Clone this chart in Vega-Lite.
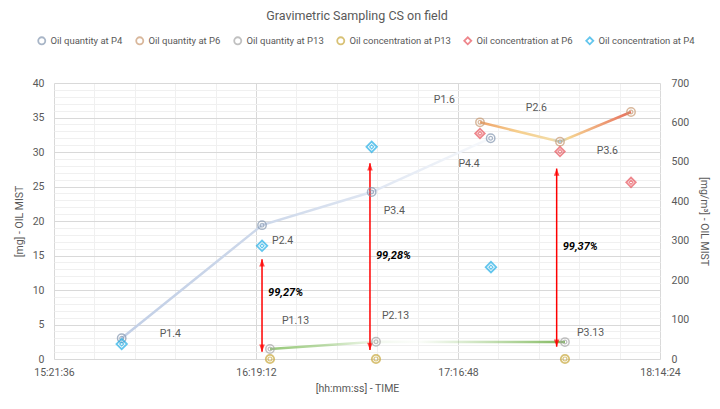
{
  "$schema": "https://vega.github.io/schema/vega-lite/v6.json",
  "autosize": {"type": "none"},
  "padding": {"left": 54, "top": 83, "right": 60, "bottom": 50},
  "width": 606,
  "height": 276,
  "title": {"text": "Gravimetric Sampling CS on field", "fontSize": 12.5, "fontWeight": "normal", "color": "#595959", "anchor": "middle", "offset": 14},
  "config": {
    "font": "Roboto",
    "view": {"stroke": null},
    "axis": {"labelColor": "#595959", "titleColor": "#595959", "titleFontWeight": "normal", "labelFontSize": 10.5, "titleFontSize": 10.5, "ticks": false, "domain": false},
    "legend": {"labelColor": "#595959", "labelFontSize": 9.5}
  },
  "datasets": {
    "qty": [
      {"series": "Oil quantity at P4", "point": "P1.4", "time": "1970-01-01T15:40:54Z", "mg": 3.0},
      {"series": "Oil quantity at P4", "point": "P2.4", "time": "1970-01-01T16:20:55Z", "mg": 19.4},
      {"series": "Oil quantity at P4", "point": "P3.4", "time": "1970-01-01T16:52:11Z", "mg": 24.2},
      {"series": "Oil quantity at P4", "point": "P4.4", "time": "1970-01-01T17:26:07Z", "mg": 32.0},
      {"series": "Oil quantity at P6", "point": "P1.6", "time": "1970-01-01T17:23:04Z", "mg": 34.3},
      {"series": "Oil quantity at P6", "point": "P2.6", "time": "1970-01-01T17:45:53Z", "mg": 31.5},
      {"series": "Oil quantity at P6", "point": "P3.6", "time": "1970-01-01T18:06:08Z", "mg": 35.8},
      {"series": "Oil quantity at P13", "point": "P1.13", "time": "1970-01-01T16:23:11Z", "mg": 1.45},
      {"series": "Oil quantity at P13", "point": "P2.13", "time": "1970-01-01T16:53:25Z", "mg": 2.5},
      {"series": "Oil quantity at P13", "point": "P3.13", "time": "1970-01-01T17:47:18Z", "mg": 2.45}
    ],
    "conc": [
      {"series": "Oil concentration at P4", "time": "1970-01-01T15:40:54Z", "conc": 38},
      {"series": "Oil concentration at P4", "time": "1970-01-01T16:20:55Z", "conc": 287},
      {"series": "Oil concentration at P4", "time": "1970-01-01T16:52:11Z", "conc": 538},
      {"series": "Oil concentration at P4", "time": "1970-01-01T17:26:12Z", "conc": 233},
      {"series": "Oil concentration at P6", "time": "1970-01-01T17:23:04Z", "conc": 572},
      {"series": "Oil concentration at P6", "time": "1970-01-01T17:45:53Z", "conc": 526},
      {"series": "Oil concentration at P6", "time": "1970-01-01T18:06:08Z", "conc": 448},
      {"series": "Oil concentration at P13", "time": "1970-01-01T16:23:11Z", "conc": 0},
      {"series": "Oil concentration at P13", "time": "1970-01-01T16:53:25Z", "conc": 0},
      {"series": "Oil concentration at P13", "time": "1970-01-01T17:47:18Z", "conc": 0}
    ],
    "arrows": [
      {"time": "1970-01-01T16:20:55Z", "mg": 14.45, "mg2": 1.06, "label": "99,27%", "labelAt": 9.6},
      {"time": "1970-01-01T16:51:42Z", "mg": 28.36, "mg2": 1.3, "label": "99,28%", "labelAt": 14.9},
      {"time": "1970-01-01T17:44:56Z", "mg": 27.6, "mg2": 1.78, "label": "99,37%", "labelAt": 16.2}
    ]
  },
  "layer": [
    {
      "encoding": {
        "x": {"field": "time", "type": "temporal", "scale": {"type": "utc", "domain": [55296000, 65664000]},
          "axis": {"title": "[hh:mm:ss] - TIME", "values": [55296000,55641600,55987200,56332800,56678400,57024000,57369600,57715200,58060800,58406400,58752000,59097600,59443200,59788800,60134400,60480000,60825600,61171200,61516800,61862400,62208000,62553600,62899200,63244800,63590400,63936000,64281600,64627200,64972800,65318400,65664000],
            "labelExpr": "((datum.value - 55296000) % 1728000 === 0) ? utcFormat(datum.value, '%H:%M:%S') : ''",
            "gridColor": {"condition": {"test": "(datum.value - 55296000) % 1728000 === 0", "value": "#d9d9d9"}, "value": "#f0f0f0"},
            "labelPadding": 8, "titlePadding": 6, "labelOverlap": false, "labelFlush": false}},
        "y": {"field": "mg", "type": "quantitative", "scale": {"domain": [0, 40], "nice": false},
          "axis": {"title": "[mg] - OIL MIST", "orient": "left", "values": [0,1,2,3,4,5,6,7,8,9,10,11,12,13,14,15,16,17,18,19,20,21,22,23,24,25,26,27,28,29,30,31,32,33,34,35,36,37,38,39,40],
            "labelExpr": "datum.value % 5 === 0 ? datum.label : ''",
            "gridColor": {"condition": {"test": "datum.value % 5 === 0", "value": "#d9d9d9"}, "value": "#f0f0f0"},
            "labelPadding": 10, "titlePadding": 8, "labelOverlap": false}}
      },
      "layer": [
        {"data": {"name": "qty"}, "transform": [{"filter": "datum.series === 'Oil quantity at P4'"}],
          "mark": {"type": "line", "strokeWidth": 2.5, "color": {"gradient": "linear", "x1": 0, "x2": 1, "y1": 0, "y2": 0, "stops": [{"offset": 0, "color": "#c2cfe6"}, {"offset": 0.38, "color": "#cdd8ea"}, {"offset": 0.68, "color": "#dfe6f2"}, {"offset": 1, "color": "#f7f9fc"}]}}},
        {"data": {"name": "qty"}, "transform": [{"filter": "datum.series === 'Oil quantity at P6'"}],
          "mark": {"type": "line", "strokeWidth": 2.5, "color": {"gradient": "linear", "x1": 0, "x2": 1, "y1": 0, "y2": 0, "stops": [{"offset": 0, "color": "#eea26a"}, {"offset": 0.25, "color": "#f6cf8e"}, {"offset": 0.48, "color": "#f3dba6"}, {"offset": 0.53, "color": "#9fcbe0"}, {"offset": 0.58, "color": "#f5d592"}, {"offset": 1, "color": "#e7705e"}]}}},
        {"data": {"name": "qty"}, "transform": [{"filter": "datum.series === 'Oil quantity at P13'"}],
          "mark": {"type": "line", "strokeWidth": 2.5, "color": {"gradient": "linear", "x1": 0, "x2": 1, "y1": 0, "y2": 0, "stops": [{"offset": 0, "color": "rgba(150,200,120,1)"}, {"offset": 0.2, "color": "rgba(150,200,120,0.6)"}, {"offset": 0.36, "color": "rgba(150,200,120,0.12)"}, {"offset": 0.5, "color": "rgba(150,200,120,0.03)"}, {"offset": 1, "color": "rgba(130,185,95,1)"}]}}},
        {"data": {"name": "arrows"}, "mark": {"type": "rule", "color": "#ff0000", "strokeWidth": 1.5}, "encoding": {"y2": {"field": "mg2"}}},
        {"data": {"name": "arrows"}, "mark": {"type": "point", "filled": true, "color": "#ff0000", "size": 64, "strokeWidth": 0, "shape": "M0,0L-0.7,1.8L0.7,1.8Z"}},
        {"data": {"name": "arrows"}, "mark": {"type": "point", "filled": true, "color": "#ff0000", "size": 64, "strokeWidth": 0, "shape": "M0,0L-0.7,-1.8L0.7,-1.8Z"}, "encoding": {"y": {"field": "mg2", "type": "quantitative"}}},
        {"data": {"name": "arrows"}, "mark": {"type": "text", "align": "left", "dx": 6, "fontSize": 11, "fontWeight": "bold", "fontStyle": "italic", "color": "#000000"}, "encoding": {"y": {"field": "labelAt", "type": "quantitative"}, "text": {"field": "label"}}},
        {"data": {"name": "qty"}, "mark": {"type": "point", "filled": false, "size": 70, "strokeWidth": 1.5},
          "encoding": {
            "color": {"field": "series", "type": "nominal", "scale": {"domain": ["Oil quantity at P4", "Oil quantity at P6", "Oil quantity at P13", "Oil concentration at P13", "Oil concentration at P6", "Oil concentration at P4"], "range": ["#8497b0", "#c99a72", "#a6a6a6", "#c8a83c", "#e8545c", "#22aee6"]},
              "legend": {"title": null, "orient": "none", "legendX": -17, "legendY": -47, "direction": "horizontal", "columns": 6, "columnPadding": 9, "labelOffset": 4, "symbolSize": 50, "symbolStrokeWidth": 1.8}},
            "shape": {"field": "series", "type": "nominal", "scale": {"domain": ["Oil quantity at P4", "Oil quantity at P6", "Oil quantity at P13", "Oil concentration at P13", "Oil concentration at P6", "Oil concentration at P4"], "range": ["circle", "circle", "circle", "circle", "diamond", "diamond"]},
              "legend": {"title": null, "orient": "none", "legendX": -17, "legendY": -47, "direction": "horizontal", "columns": 6, "columnPadding": 9, "labelOffset": 4, "symbolSize": 50, "symbolStrokeWidth": 1.8}}
          }},
        {"data": {"name": "qty"}, "mark": {"type": "point", "filled": false, "size": 14, "strokeWidth": 1.2, "shape": "circle"},
          "encoding": {"color": {"field": "series", "type": "nominal"}}},
        {"data": {"name": "qty"}, "transform": [{"filter": "datum.point === 'P1.4'"}], "mark": {"type": "text", "align": "left", "dx": 38, "dy": -4, "fontSize": 10.5, "color": "#595959"}, "encoding": {"text": {"field": "point"}}},
        {"data": {"name": "qty"}, "transform": [{"filter": "datum.point === 'P2.4'"}], "mark": {"type": "text", "align": "left", "dx": 10, "dy": 16, "fontSize": 10.5, "color": "#595959"}, "encoding": {"text": {"field": "point"}}},
        {"data": {"name": "qty"}, "transform": [{"filter": "datum.point === 'P3.4'"}], "mark": {"type": "text", "align": "left", "dx": 12, "dy": 19, "fontSize": 10.5, "color": "#595959"}, "encoding": {"text": {"field": "point"}}},
        {"data": {"name": "qty"}, "transform": [{"filter": "datum.point === 'P4.4'"}], "mark": {"type": "text", "align": "right", "dx": -11, "dy": 26, "fontSize": 10.5, "color": "#595959"}, "encoding": {"text": {"field": "point"}}},
        {"data": {"name": "qty"}, "transform": [{"filter": "datum.point === 'P1.6'"}], "mark": {"type": "text", "align": "right", "dx": -25, "dy": -22, "fontSize": 10.5, "color": "#595959"}, "encoding": {"text": {"field": "point"}}},
        {"data": {"name": "qty"}, "transform": [{"filter": "datum.point === 'P2.6'"}], "mark": {"type": "text", "align": "right", "dx": -13, "dy": -34, "fontSize": 10.5, "color": "#595959"}, "encoding": {"text": {"field": "point"}}},
        {"data": {"name": "qty"}, "transform": [{"filter": "datum.point === 'P3.6'"}], "mark": {"type": "text", "align": "right", "dx": -13, "dy": 39, "fontSize": 10.5, "color": "#595959"}, "encoding": {"text": {"field": "point"}}},
        {"data": {"name": "qty"}, "transform": [{"filter": "datum.point === 'P1.13'"}], "mark": {"type": "text", "align": "left", "dx": 12, "dy": -28, "fontSize": 10.5, "color": "#595959"}, "encoding": {"text": {"field": "point"}}},
        {"data": {"name": "qty"}, "transform": [{"filter": "datum.point === 'P2.13'"}], "mark": {"type": "text", "align": "left", "dx": 6, "dy": -26, "fontSize": 10.5, "color": "#595959"}, "encoding": {"text": {"field": "point"}}},
        {"data": {"name": "qty"}, "transform": [{"filter": "datum.point === 'P3.13'"}], "mark": {"type": "text", "align": "left", "dx": 12, "dy": -9, "fontSize": 10.5, "color": "#595959"}, "encoding": {"text": {"field": "point"}}}
      ]
    },
    {
      "data": {"name": "conc"},
      "encoding": {
        "x": {"field": "time", "type": "temporal"},
        "y": {"field": "conc", "type": "quantitative", "scale": {"domain": [0, 700], "nice": false},
          "axis": {"title": "[mg/m³] - OIL MIST", "orient": "right", "values": [0, 100, 200, 300, 400, 500, 600, 700], "grid": false, "labelPadding": 11, "titlePadding": 10}}
      },
      "layer": [
        {"mark": {"type": "point", "filled": false, "strokeWidth": 1.8},
          "encoding": {
            "color": {"field": "series", "type": "nominal"},
            "shape": {"field": "series", "type": "nominal"},
            "size": {"field": "series", "type": "nominal", "scale": {"domain": ["Oil concentration at P13", "Oil concentration at P6", "Oil concentration at P4"], "range": [70, 110, 170]}, "legend": null}
          }},
        {"mark": {"type": "point", "filled": false, "strokeWidth": 1.2, "size": 16},
          "encoding": {
            "color": {"field": "series", "type": "nominal"},
            "shape": {"field": "series", "type": "nominal"}
          }}
      ]
    }
  ],
  "resolve": {"scale": {"y": "independent"}}
}
